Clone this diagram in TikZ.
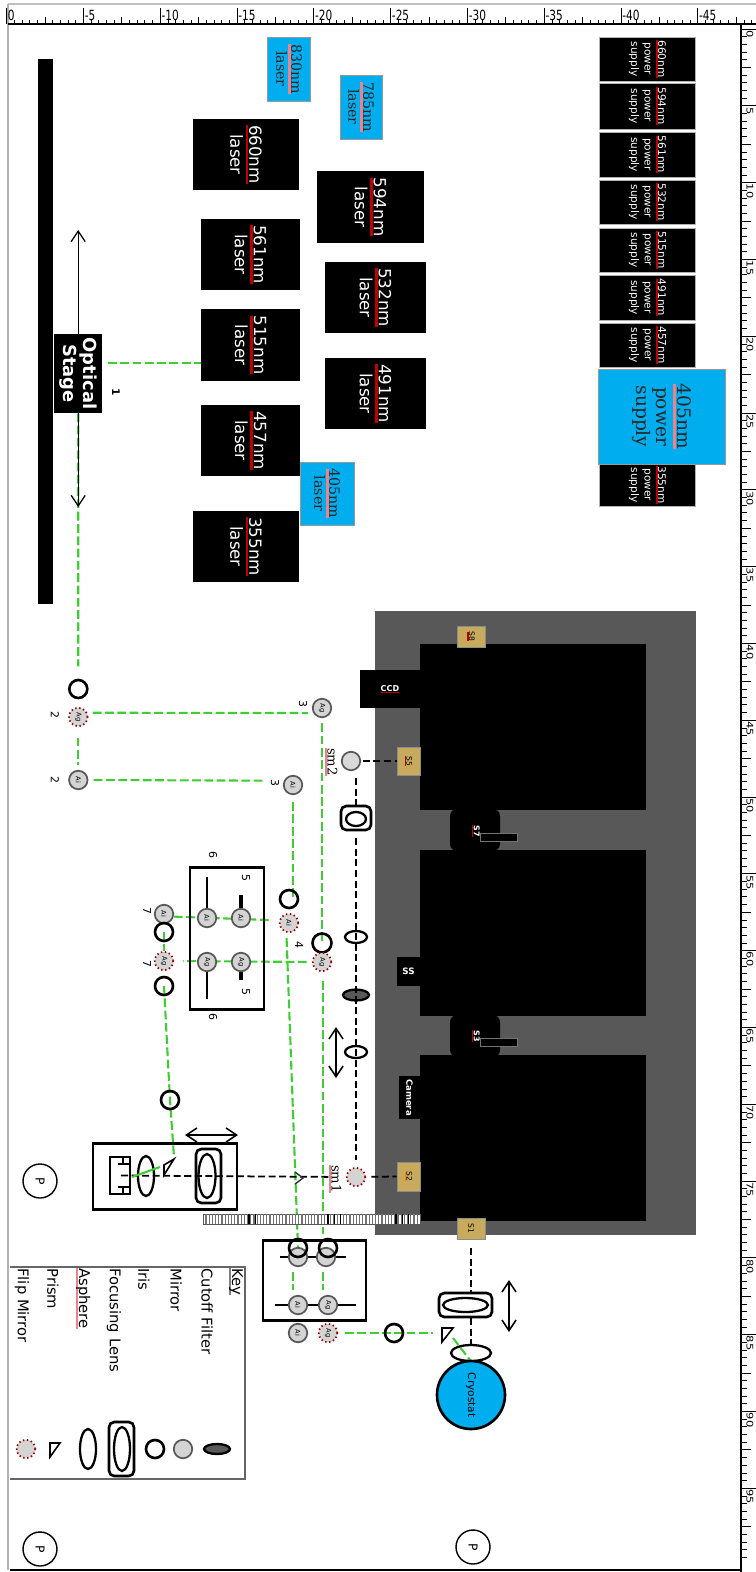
\documentclass[tikz,border=0pt]{standalone}
\usepackage{fontspec}
\setmainfont{DejaVu Sans}
\newfontfamily\serifface{DejaVu Serif}
\usetikzlibrary{arrows.meta,shapes.geometric,backgrounds}
\definecolor{beamgreen}{RGB}{62,205,50}
\definecolor{labblue}{RGB}{0,174,239}
\definecolor{tablegrey}{RGB}{88,88,88}
\definecolor{stagetan}{RGB}{200,170,92}
\definecolor{pinkline}{RGB}{235,130,140}
\newcommand{\ruled}[2][red!75!black]{\setbox0=\hbox{#2}\rlap{\textcolor{#1}{\rule[-0.22em]{\wd0}{0.16em}}}\box0}
\newcommand{\rt}[1]{\rotatebox{-90}{#1}}
\tikzset{
	sized/.style 2 args={minimum width=#1*0.02cm,minimum height=#2*0.02cm,inner sep=0pt},
	blackbox/.style={fill=black,text=white,rotate=-90,align=center},
	laserbox/.style={blackbox,font=\fontsize{9.5}{10.8}\selectfont},
	supplybox/.style={blackbox,draw=black!30,line width=0.3pt,font=\fontsize{6}{7.7}\selectfont},
	bluebox/.style={fill=labblue,draw=black!40,line width=0.3pt,rotate=-90,align=center,text=black!85,font=\serifface\fontsize{8.1}{8.6}\selectfont},
	tanbox/.style={fill=stagetan,draw=black!45,line width=0.4pt,rotate=-90,font=\fontsize{4.3}{5}\selectfont},
	mirror/.style={circle,draw=black!65,fill=black!17,line width=1pt,minimum size=0.37cm,inner sep=0pt,font=\fontsize{3.8}{4}\selectfont},
	flip/.style={mirror,draw=red!60!black,dash pattern=on 0.8pt off 1.5pt},
	iris/.style={circle,draw=black,line width=1.5pt,minimum size=0.36cm,inner sep=0pt},
	lens/.style={ellipse,draw=black,line width=1.3pt,inner sep=0pt},
	lensbox/.style={rounded corners=3pt,draw=black,line width=1.5pt},
	framebox/.style={draw=black,line width=1.7pt,inner sep=0pt},
	prismline/.style={draw=black,line width=0.9pt,line join=miter},
	beam/.style={beamgreen,line width=1.2pt,dash pattern=on 5pt off 2pt},
	optpath/.style={black,line width=1pt,dash pattern=on 4pt off 2pt},
	motion/.style={black,line width=0.9pt,<->},
	numlab/.style={rotate=-90,font=\fontsize{6.2}{7}\selectfont,inner sep=0pt},
	keytext/.style={rotate=-90,anchor=west,inner sep=0pt,font=\fontsize{8.4}{9}\selectfont},
	pinlabel/.style={circle,draw=black,line width=0.8pt,minimum size=0.68cm,inner sep=0pt,font=\fontsize{7}{8}\selectfont}
}
\begin{document}
\begin{tikzpicture}[line cap=butt,>={Straight Barb[length=6pt,width=8pt]},x=0.02cm,y=-0.02cm]
	\useasboundingbox (0,0) rectangle (756,1572);
	\draw [black!25,line width=0.8pt] (8,4) -- (756,4);
	\draw [black!30,line width=0.6pt] (8,4) -- (8,1570);
	\draw [black,line width=0.6pt] (8,24) -- (741,24) -- (741,1572);
	\draw [black,line width=0.6pt] (741,24) -- (756,24);
	\draw [black,line width=1pt] (10,1570) -- (741,1570);
	\foreach \k in {0,...,9} {
		\pgfmathsetmacro{\tickx}{6.6+76.8*\k}
		\pgfmathtruncatemacro{\val}{5*\k}
		\draw [black,line width=0.5pt] (\tickx,24) -- (\tickx,8);
		\node [anchor=west,inner sep=0pt,font=\fontsize{8}{9}\selectfont] (top\k) at (\tickx+1,15) {\scalebox{0.75}[1]{\ifnum\k=0 0\else -\val\fi}};
		\foreach \m in {1,...,9} {
			\draw [black,line width=0.4pt] (\tickx+7.68*\m,24) -- (\tickx+7.68*\m,{\ifnum\m=5 17\else 20\fi});
		}
	}
	\foreach \k in {0,...,19} {
		\pgfmathsetmacro{\ticky}{29+76.8*\k}
		\pgfmathtruncatemacro{\val}{5*\k}
		\draw [black,line width=0.5pt] (741,\ticky) -- (756,\ticky);
		\node [rotate=-90,anchor=west,inner sep=0pt,font=\fontsize{6.5}{7}\selectfont] (side\k) at (750,\ticky+1) {\scalebox{1}[0.8]{\val}};
		\foreach \m in {1,...,9} {
			\draw [black,line width=0.4pt] (741,\ticky+7.68*\m) -- ({\ifnum\m=5 751\else 747\fi},\ticky+7.68*\m);
		}
	}

	\node [fill=black,sized={15.5}{545}] (bar) at (45.3,331) {};
	\node [fill=black,text=white,rotate=-90,align=center,sized={79}{48},font=\bfseries\fontsize{10.2}{11.4}\selectfont] (stage) at (78.2,373.5) {Optical\\Stage};
	\coordinate (stageTip) at (78.2,230);
	\coordinate (stageEnd) at (78.2,507);
	\draw [black,line width=0.7pt,->] (stage.west) -- (stageTip);
	\draw [black,line width=0.7pt,->] (stage.east) -- (stageEnd);
	\node [numlab,font=\bfseries\fontsize{6}{7}\selectfont] (numOne) at (116,392) {1};

	\node [laserbox,sized={71}{106.5}] (lsrSixSixty) at (246,154.5) {\ruled{660nm}\\laser};
	\node [laserbox,sized={72}{107}] (lsrFiveNinetyFour) at (370.5,207) {\ruled{594nm}\\laser};
	\node [laserbox,sized={71}{99}] (lsrFiveSixtyOne) at (250.5,254.5) {\ruled{561nm}\\laser};
	\node [laserbox,sized={71}{101}] (lsrFiveThirtyTwo) at (375.5,297.5) {\ruled{532nm}\\laser};
	\node [laserbox,sized={72}{99}] (lsrFiveFifteen) at (250.5,345) {\ruled{515nm}\\laser};
	\node [laserbox,sized={71}{101}] (lsrFourNinetyOne) at (375.5,393.5) {\ruled{491nm}\\laser};
	\node [laserbox,sized={71}{99}] (lsrFourFiftySeven) at (250.5,440.5) {\ruled{457nm}\\laser};
	\node [laserbox,sized={71}{106.5}] (lsrThreeFiftyFive) at (246,546.5) {\ruled{355nm}\\laser};
	\node [bluebox,sized={64}{43}] (lsrEightThirty) at (289,69) {\ruled[pinkline]{830nm}\\laser};
	\node [bluebox,sized={64}{42}] (lsrSevenEightyFive) at (361,107) {\ruled[pinkline]{785nm}\\laser};
	\node [bluebox,sized={63}{54}] (lsrFourZeroFive) at (327,493.5) {\ruled[pinkline]{405nm}\\laser};

	\node [supplybox,sized={44}{96.5}] (psuSixSixty) at (647.5,59) {\ruled{660nm}\\power\\supply};
	\node [supplybox,sized={46}{96.5}] (psuFiveNinetyFour) at (647.5,106) {\ruled{594nm}\\power\\supply};
	\node [supplybox,sized={45}{96.5}] (psuFiveSixtyOne) at (647.5,154.5) {\ruled{561nm}\\power\\supply};
	\node [supplybox,sized={44}{96.5}] (psuFiveThirtyTwo) at (647.5,202) {\ruled{532nm}\\power\\supply};
	\node [supplybox,sized={44}{96.5}] (psuFiveFifteen) at (647.5,250) {\ruled{515nm}\\power\\supply};
	\node [supplybox,sized={45}{96.5}] (psuFourNinetyOne) at (647.5,297.5) {\ruled{491nm}\\power\\supply};
	\node [supplybox,sized={44}{96.5}] (psuFourFiftySeven) at (647.5,345) {\ruled{457nm}\\power\\supply};
	\node [supplybox,sized={42}{96.5}] (psuThreeFiftyFive) at (647.5,485) {\ruled{355nm}\\power\\supply};
	\node [bluebox,sized={95}{127},font=\serifface\fontsize{10.6}{11.6}\selectfont] (psuFourZeroFive) at (661.5,416.5) {\ruled[pinkline]{405nm}\\power\\supply};

	\node [fill=tablegrey,sized={321}{624}] (opticTable) at (535,923) {};
	\node [fill=black,sized={226}{166}] (blockA) at (533,727) {};
	\node [fill=black,sized={226}{166}] (blockB) at (533,933) {};
	\node [fill=black,sized={226}{166}] (blockC) at (533,1138) {};
	\node [fill=black,rounded corners=4pt,sized={50}{42}] (hubA) at (475,830) {};
	\node [fill=black,rounded corners=4pt,sized={50}{42}] (hubB) at (475,1036) {};
	\node [fill=black,draw=black!55,line width=0.3pt,sized={37}{8}] (slitA) at (498.5,837) {};
	\node [fill=black,draw=black!55,line width=0.3pt,sized={37}{8}] (slitB) at (498.5,1042.5) {};
	\node [rotate=-90,text=white,inner sep=0pt,font=\bfseries\fontsize{4.5}{5}\selectfont] (labSeven) at (476,831) {\ruled{S7}};
	\node [rotate=-90,text=white,inner sep=0pt,font=\bfseries\fontsize{4.5}{5}\selectfont] (labThree) at (476,1036) {\ruled{S3}};
	\node [tanbox,sized={21}{28}] (stEight) at (471,636.5) {\ruled{S8}};
	\node [tanbox,sized={28}{23}] (stFive) at (408.5,761) {\ruled{S5}};
	\node [tanbox,sized={29}{23}] (stTwo) at (408.5,1176.5) {\ruled[orange]{S2}};
	\node [tanbox,sized={21}{28}] (stOne) at (471,1228.5) {S1};
	\node [fill=black,text=white,sized={60}{38},font=\bfseries\fontsize{4.6}{5}\selectfont] (ccd) at (390,689) {\ruled{CCD}};
	\node [fill=black,text=white,sized={23}{29},font=\bfseries\fontsize{5}{6}\selectfont] (slitBox) at (408.5,971.5) {SS};
	\node [fill=black,text=white,rotate=-90,sized={43}{21},font=\bfseries\fontsize{4.9}{6}\selectfont] (camera) at (409.5,1097.5) {Camera};
	\node [fill=white,draw=black!65,line width=0.5pt,sized={217}{10}] (rail) at (311.5,1219) {};
	\foreach \x in {206,209.2,...,418} {
		\draw [black!55,line width=0.6pt] (\x,1214) -- (\x,1224);
	}
	\foreach \x in {249,255.4,...,261,328,334.4,...,341,396,402.4,...,409} {
		\draw [black,line width=0.6pt] (\x,1214) -- (\x,1224);
	}

	\node [iris] (irisA) at (78.3,689) {};
	\node [flip] (flipAgA) at (78.3,717) {\rt{Ag}};
	\node [mirror] (mirAiA) at (78.3,780) {\rt{Ai}};
	\node [mirror] (mirAgB) at (322,708) {\rt{Ag}};
	\node [mirror] (mirAiB) at (293,785) {\rt{Ai}};
	\node [mirror,fill=black!15] (mirSmB) at (351,761) {};
	\node [iris] (irisB) at (289,899) {};
	\node [flip] (flipAiC) at (289,923) {\rt{Ai}};
	\node [iris,minimum size=0.38cm] (irisC) at (322,943) {};
	\node [flip] (flipAgC) at (322,962) {\rt{Ag}};
	\node [numlab] (numThreeA) at (303,704) {3};
	\node [numlab] (numThreeB) at (275,783) {3};
	\node [numlab] (numTwoA) at (55,715) {2};
	\node [numlab] (numTwoB) at (55,780) {2};
	\node [numlab] (numFour) at (299,945) {4};
	\node [numlab] (numSixA) at (213,855) {6};
	\node [numlab] (numSixB) at (213,1017) {6};
	\node [numlab] (numFiveA) at (246,878) {5};
	\node [numlab] (numFiveB) at (246,992) {5};
	\node [numlab] (numSevenA) at (147,911) {7};
	\node [numlab] (numSevenB) at (147,964) {7};
	\node [rotate=-90,inner sep=0pt,font=\serifface\fontsize{7.5}{8}\selectfont] (labSmTwo) at (331,762) {\ruled[pinkline]{sm2}};
	\node [rotate=-90,inner sep=0pt,font=\serifface\fontsize{7.5}{8}\selectfont] (labSmOne) at (335,1179) {\ruled[pinkline]{sm1}};

	\node [framebox,sized={74}{142}] (wheelBox) at (227,938) {};
	\draw [black,line width=1.2pt] (207,877) -- (207,915);
	\draw [black,line width=1.8pt] (241,895) -- (241,915);
	\draw [black,line width=1.2pt] (207,965) -- (207,999);
	\draw [black,line width=1.8pt] (241,965) -- (241,980);
	\node [mirror] (mirAiD) at (207,918) {\rt{Ai}};
	\node [mirror] (mirAiF) at (241,918) {\rt{Ai}};
	\node [mirror] (mirAgD) at (207,962) {\rt{Ag}};
	\node [mirror] (mirAgF) at (241,962) {\rt{Ag}};
	\node [mirror] (mirAiE) at (164,914) {\rt{Ai}};
	\node [iris] (irisE) at (164,932) {};
	\node [flip] (flipAgE) at (164,961) {\rt{Ag}};
	\node [iris] (irisF) at (164,986) {};
	\node [iris] (irisG) at (170,1100) {};

	\node [framebox,sized={144}{66}] (detectBox) at (165,1176) {};
	\node [draw=black,line width=1.4pt,sized={20}{37}] (detector) at (120,1175.5) {};
	\draw [black,line width=1pt] (detector.north) ++(3,0) -- ++(0,8) ++(-5,0) -- ++(12,0);
	\draw [black,line width=1pt] (detector.south) ++(3,0) -- ++(0,-8) ++(-5,0) -- ++(12,0);
	\node [lens,sized={16}{40}] (lensD) at (146,1176) {};
	\coordinate (prismA) at (164,1165);
	\draw [prismline] (prismA) -- ++(10,-6) -- ++(-10,16) -- cycle;
	\node [lensbox,sized={25}{54}] (lensBoxD) at (208.5,1176) {};
	\node [lens,sized={17}{44}] (lensE) at (207,1176) {};
	\draw [motion] (185,1135) -- (238,1135);
	\node [pinlabel] (pinA) at (40,1181) {\rt{P}};

	\node [lensbox,sized={30}{24}] (lensBoxA) at (356,818) {};
	\node [lens,sized={20}{14}] (lensA) at (356,819) {};
	\node [lens,sized={22}{12}] (lensB) at (356,937) {};
	\node [lens,fill=black!65,sized={26}{11}] (filterA) at (356,995) {};
	\node [lens,sized={22}{12}] (lensC) at (356,1052) {};
	\node [flip] (flipSmA) at (356,1177) {};
	\draw [motion] (336,1027) -- (336,1078);
	\draw [optpath,shorten <=4pt] (mirSmB.south -| lensBoxA.north) -- (lensBoxA.north);
	\draw [optpath,shorten <=4pt,shorten >=4pt] (lensBoxA.south) -- (flipSmA.north);
	\draw [optpath,shorten <=1pt] (mirSmB) -- (stFive.south);
	\draw [optpath,shorten <=3pt] (flipSmA) -- (stTwo.south);
	\draw [optpath,shorten <=10pt] (flipSmA.west) -- (detector.center);
	\coordinate (chevA) at (295,1172);
	\draw [black!80,line width=0.8pt,line join=miter] (chevA) -- ++(8,6) -- ++(-8,6);

	\node [framebox,sized={103}{80}] (couplerBox) at (314.5,1280) {};
	\draw [black,line width=0.8pt] (280,1257) -- (346,1257);
	\node [mirror] (mirAiG) at (298,1257) {};
	\node [mirror] (mirAgG) at (326,1257) {};
	\node [iris] (irisK) at (298,1248) {};
	\node [iris] (irisL) at (328,1248) {};
	\draw [black,line width=0.8pt] (275,1305) -- (356,1305);
	\node [mirror] (mirAiH) at (298,1305) {\rt{Ai}};
	\node [mirror] (mirAgH) at (328,1305) {\rt{Ag}};
	\node [mirror] (mirAiJ) at (298,1333) {\rt{Ai}};
	\node [flip] (flipAgJ) at (328,1333) {\rt{Ag}};
	\node [iris] (irisM) at (394,1333) {};
	\coordinate (prismB) at (442,1328);
	\draw [prismline] (prismB) -- ++(11,0) -- ++(-11,14) -- cycle;
	\node [lensbox,sized={53}{24}] (lensBoxB) at (465.5,1305) {};
	\node [lens,sized={45}{14}] (lensF) at (465.5,1305) {};
	\node [lens,sized={40}{16}] (lensG) at (471,1353) {};
	\node [circle,fill=labblue,draw=black,line width=1.5pt,minimum size=1.36cm,inner sep=0pt] (cryostat) at (471,1395) {\rt{\fontsize{6}{7}\selectfont Cryostat}};
	\draw [motion] (509,1280) -- (509,1332);
	\draw [optpath,shorten <=5pt] (stOne.east) -- (stOne.east |- lensBoxB.north);
	\draw [optpath] (lensBoxB.south -| lensG.north) -- (lensG.north);
	\node [pinlabel] (pinB) at (473,1547) {\rt{P}};

	\draw [black!60,line width=0.7pt] (10,1267) -- (245,1267) -- (245,1479) -- (10,1479);
	\node [keytext] (keyHead) at (236,1268) {\ruled[black!50]{Key}};
	\node [keytext] (keyFilter) at (207,1268) {Cutoff Filter};
	\node [keytext] (keyMirror) at (176,1268) {Mirror};
	\node [keytext] (keyIris) at (144,1268) {Iris};
	\node [keytext] (keyFocus) at (114,1268) {Focusing Lens};
	\node [keytext] (keyAsphere) at (83,1268) {\ruled[pinkline]{Asphere}};
	\node [keytext] (keyPrism) at (53,1268) {Prism};
	\node [keytext] (keyFlip) at (22,1268) {Flip Mirror};
	\node [lens,fill=black!65,sized={26}{10}] (symFilter) at (217,1449) {};
	\node [mirror] (symMirror) at (183,1449) {};
	\node [iris] (symIris) at (155,1449) {};
	\node [lensbox,sized={25}{54}] (symLensBox) at (121.5,1449) {};
	\node [lens,sized={16}{44}] (symLens) at (122,1449) {};
	\node [lens,sized={16}{40}] (symAsphere) at (88,1449) {};
	\coordinate (symPrism) at (50,1443);
	\draw [prismline] (symPrism) -- ++(10,0) -- ++(-10,14) -- cycle;
	\node [flip] (symFlip) at (26,1449) {};
	\node [pinlabel] (pinC) at (40,1549) {\rt{P}};

	\begin{scope}[on background layer]
		\coordinate (stageBeam) at (108,363);
		\coordinate (prismBeamA) at (160,1167);
		\coordinate (detectBeam) at (132,1177);
		\coordinate (coupleA) at (293,1272);
		\coordinate (coupleB) at (293,1290);
		\coordinate (coupleC) at (323,1272);
		\coordinate (coupleD) at (323,1290);
		\coordinate (prismBeamB) at (433,1333);
		\coordinate (prismBeamC) at (453,1338);
		\coordinate (prismBeamD) at (470,1360);
		\coordinate (prismTop) at (174,1157);
		\draw [beam] (stageBeam) -- (stageBeam -| lsrFiveFifteen.south);
		\draw [beam,shorten >=7pt] (stage.east) -- (irisA.north);
		\draw [beam,shorten <=3pt,shorten >=3pt] (flipAgA.25) -- (mirAgB.210);
		\draw [beam,shorten <=6pt,shorten >=3pt] (flipAgA) -- (mirAiA);
		\draw [beam,shorten <=3pt,shorten >=11pt] (mirAiA.east) -- (mirAiB.155);
		\draw [beam,shorten <=3pt] (mirAgB.south) -- (irisC.center);
		\draw [beam,shorten <=4pt] (mirAiB.south) -- (mirAiB.south |- irisB.center);
		\draw [beam,shorten <=6pt] (flipAiC.165) -- (mirAiE.-15);
		\draw [beam,shorten <=3pt,shorten >=5pt] (flipAgC.west) -- (flipAgE.east);
		\draw [beam] (irisE.center) -- (flipAgE.north);
		\draw [beam] (irisF.center) -- (irisG.center) -- (prismTop);
		\draw [beam,shorten <=3pt] (flipAiC.255) -- (irisK.center);
		\draw [beam,shorten <=5pt,shorten >=2pt] (flipAgC.south -| coupleC) -- (irisL.north -| coupleC);
		\draw [beam] (coupleA) -- (coupleB);
		\draw [beam] (coupleC) -- (coupleD);
		\draw [beam,shorten <=4pt] (flipAgJ.east) -- (prismBeamB);
		\draw [beam] (prismBeamC) -- (prismBeamD);
	\end{scope}
	\draw [beam,dash pattern=] (prismBeamA) -- (detectBeam);
\end{tikzpicture}
\end{document}
